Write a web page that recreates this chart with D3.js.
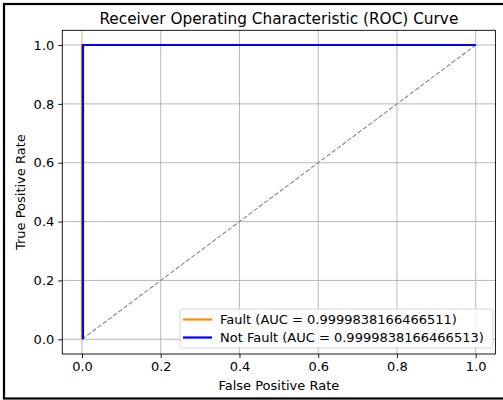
<!DOCTYPE html>
<html><head><meta charset="utf-8">
<script src="https://cdn.jsdelivr.net/npm/d3@7"></script>
<style>body{margin:0;background:#fff}svg{display:block}text{font-family:"DejaVu Sans",sans-serif}</style>
</head><body><svg id="c" width="503" height="400"></svg>
<script>
const title = "Receiver Operating Characteristic (ROC) Curve";
const xLabel = "False Positive Rate";
const yLabel = "True Positive Rate";
const ticks = [0, 0.2, 0.4, 0.6, 0.8, 1.0];
const seriesNames = ["Fault (AUC = 0.9999838166466511)", "Not Fault (AUC = 0.9999838166466513)"];
const seriesColors = ["#ff8c00", "#0000ff"];
const faultFPR = [0, 0, 1];
const faultTPR = [0, 1, 1];
const notFaultFPR = [0.0025, 0.0025, 1];
const notFaultTPR = [0, 1, 1];
const diagX = [0, 1];
const diagY = [0, 1];

const svg = d3.select("#c");
const L = 62.3, R = 495.4, T = 30.3, B = 354;
const x = d3.scaleLinear().domain([-0.05, 1.05]).range([L, R]);
const y = d3.scaleLinear().domain([-0.05, 1.05]).range([B, T]);

// frame border
svg.append("rect").attr("x", 4).attr("y", 4).attr("width", 520).attr("height", 394.5)
  .attr("fill", "none").attr("stroke", "#000").attr("stroke-width", 2.2);

svg.append("text").attr("x", (L + R) / 2).attr("y", 24).attr("text-anchor", "middle")
  .attr("font-size", 15.3).attr("fill", "#000").text(title);

// grid
const g = svg.append("g");
ticks.forEach(t => {
  g.append("line").attr("x1", x(t)).attr("x2", x(t)).attr("y1", T).attr("y2", B)
    .attr("stroke", "#b0b0b0").attr("stroke-width", 0.9);
  g.append("line").attr("y1", y(t)).attr("y2", y(t)).attr("x1", L).attr("x2", R)
    .attr("stroke", "#b0b0b0").attr("stroke-width", 0.9);
});

const fmt = d3.format(".1f");
const xAxis = d3.axisBottom(x).tickValues(ticks).tickFormat(fmt).tickSize(4).tickPadding(4);
const yAxis = d3.axisLeft(y).tickValues(ticks).tickFormat(fmt).tickSize(4).tickPadding(4);
const gx = svg.append("g").attr("transform", `translate(0,${B})`).call(xAxis);
const gy = svg.append("g").attr("transform", `translate(${L},0)`).call(yAxis);
[gx, gy].forEach(a => {
  a.select(".domain").remove();
  a.selectAll("text").attr("font-size", 13).attr("fill", "#000").attr("font-family", "DejaVu Sans");
  a.selectAll("line").attr("stroke", "#000").attr("stroke-width", 0.9);
});

const line = d3.line().x(d => x(d[0])).y(d => y(d[1]));
svg.append("path").datum(diagX.map((v, i) => [v, diagY[i]])).attr("d", line)
  .attr("fill", "none").attr("stroke", "#888").attr("stroke-width", 1.1).attr("stroke-dasharray", "4.5,2");
svg.append("path").datum(faultFPR.map((v, i) => [v, faultTPR[i]])).attr("d", line)
  .attr("fill", "none").attr("stroke", seriesColors[0]).attr("stroke-width", 2.2);
svg.append("path").datum(notFaultFPR.map((v, i) => [v, notFaultTPR[i]])).attr("d", line)
  .attr("fill", "none").attr("stroke", seriesColors[1]).attr("stroke-width", 2.2);

svg.append("rect").attr("x", L).attr("y", T).attr("width", R - L).attr("height", B - T)
  .attr("fill", "none").attr("stroke", "#000").attr("stroke-width", 0.9);

svg.append("text").attr("x", (L + R) / 2).attr("y", 390).attr("text-anchor", "middle")
  .attr("font-size", 13).attr("fill", "#000").text(xLabel);
svg.append("text").attr("transform", `translate(24.5,${(T + B) / 2}) rotate(-90)`).attr("text-anchor", "middle")
  .attr("font-size", 13).attr("fill", "#000").text(yLabel);

// legend
const lg = svg.append("g");
lg.append("rect").attr("x", 180).attr("y", 309).attr("width", 313).attr("height", 39).attr("rx", 2.5)
  .attr("fill", "rgba(255,255,255,0.8)").attr("stroke", "#d0d0d0").attr("stroke-width", 0.9);
seriesNames.forEach((n, i) => {
  const yy = 319.5 + i * 18;
  lg.append("line").attr("x1", 183).attr("x2", 212).attr("y1", yy).attr("y2", yy)
    .attr("stroke", seriesColors[i]).attr("stroke-width", 2.2);
  lg.append("text").attr("x", 220).attr("y", yy + 4.5).attr("font-size", 13).attr("fill", "#000").text(n);
});
</script></body></html>
